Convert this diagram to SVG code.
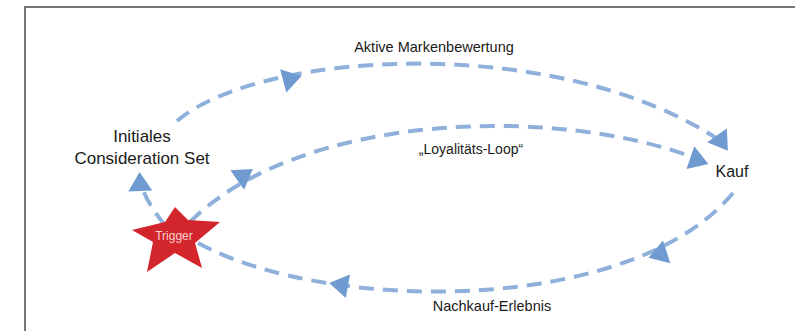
<svg xmlns="http://www.w3.org/2000/svg" width="795" height="331" viewBox="0 0 795 331">
<style>
.lbl{font-family:"Liberation Sans","Open Sans",sans-serif;fill:#1a1a1a;text-anchor:middle}
.arc{fill:none;stroke:#8eb0da;stroke-width:4;stroke-dasharray:15 9}
.ah{fill:#6f9bd0}
</style>
<defs>
<polygon id="tri" points="12,0 -7,-12 -7,12"/>
</defs>
<rect x="25" y="7" width="800" height="340" fill="none" stroke="#777" stroke-width="2"/>
<g id="connectors">
<path class="arc" d="M177,121 C260,50 560,32 722,142"/>
<path class="arc" d="M190,222 C300,112 560,104 700,160"/>
<path class="arc" d="M198,243 C330,315 640,315 737,188"/>
<path class="arc" d="M165,225 Q148,205 141,185"/>
<use href="#tri" class="ah" transform="translate(290,79) rotate(-15)"/>
<use href="#tri" class="ah" transform="translate(721,141) rotate(55)"/>
<use href="#tri" class="ah" transform="translate(243,176) rotate(-35)"/>
<use href="#tri" class="ah" transform="translate(697,160) rotate(19)"/>
<use href="#tri" class="ah" transform="translate(341,285) rotate(190)"/>
<use href="#tri" class="ah" transform="translate(660,254) rotate(162)"/>
<use href="#tri" class="ah" transform="translate(140,184) rotate(-92)"/>
</g>
<g id="initial">
<text class="lbl" x="142" y="142" font-size="17">Initiales</text>
<text class="lbl" x="142" y="164" font-size="17">Consideration Set</text>
</g>
<g id="kauf">
<text class="lbl" x="732" y="177" font-size="16">Kauf</text>
</g>
<g id="trigger">
<polygon points="175,207 188,220 220,222 195,243 202,268 175,253 147,272 153,242 132,230 165,222" fill="#d3262c"/>
<text x="174" y="240" font-size="12" fill="#f6d0d0" text-anchor="middle" font-family="Liberation Sans, sans-serif">Trigger</text>
</g>
<g id="labels">
<text class="lbl" x="434" y="52" font-size="14.5">Aktive Markenbewertung</text>
<text class="lbl" x="471" y="154" font-size="14">„Loyalitäts-Loop“</text>
<text class="lbl" x="492" y="311" font-size="14.5">Nachkauf-Erlebnis</text>
</g>
</svg>
